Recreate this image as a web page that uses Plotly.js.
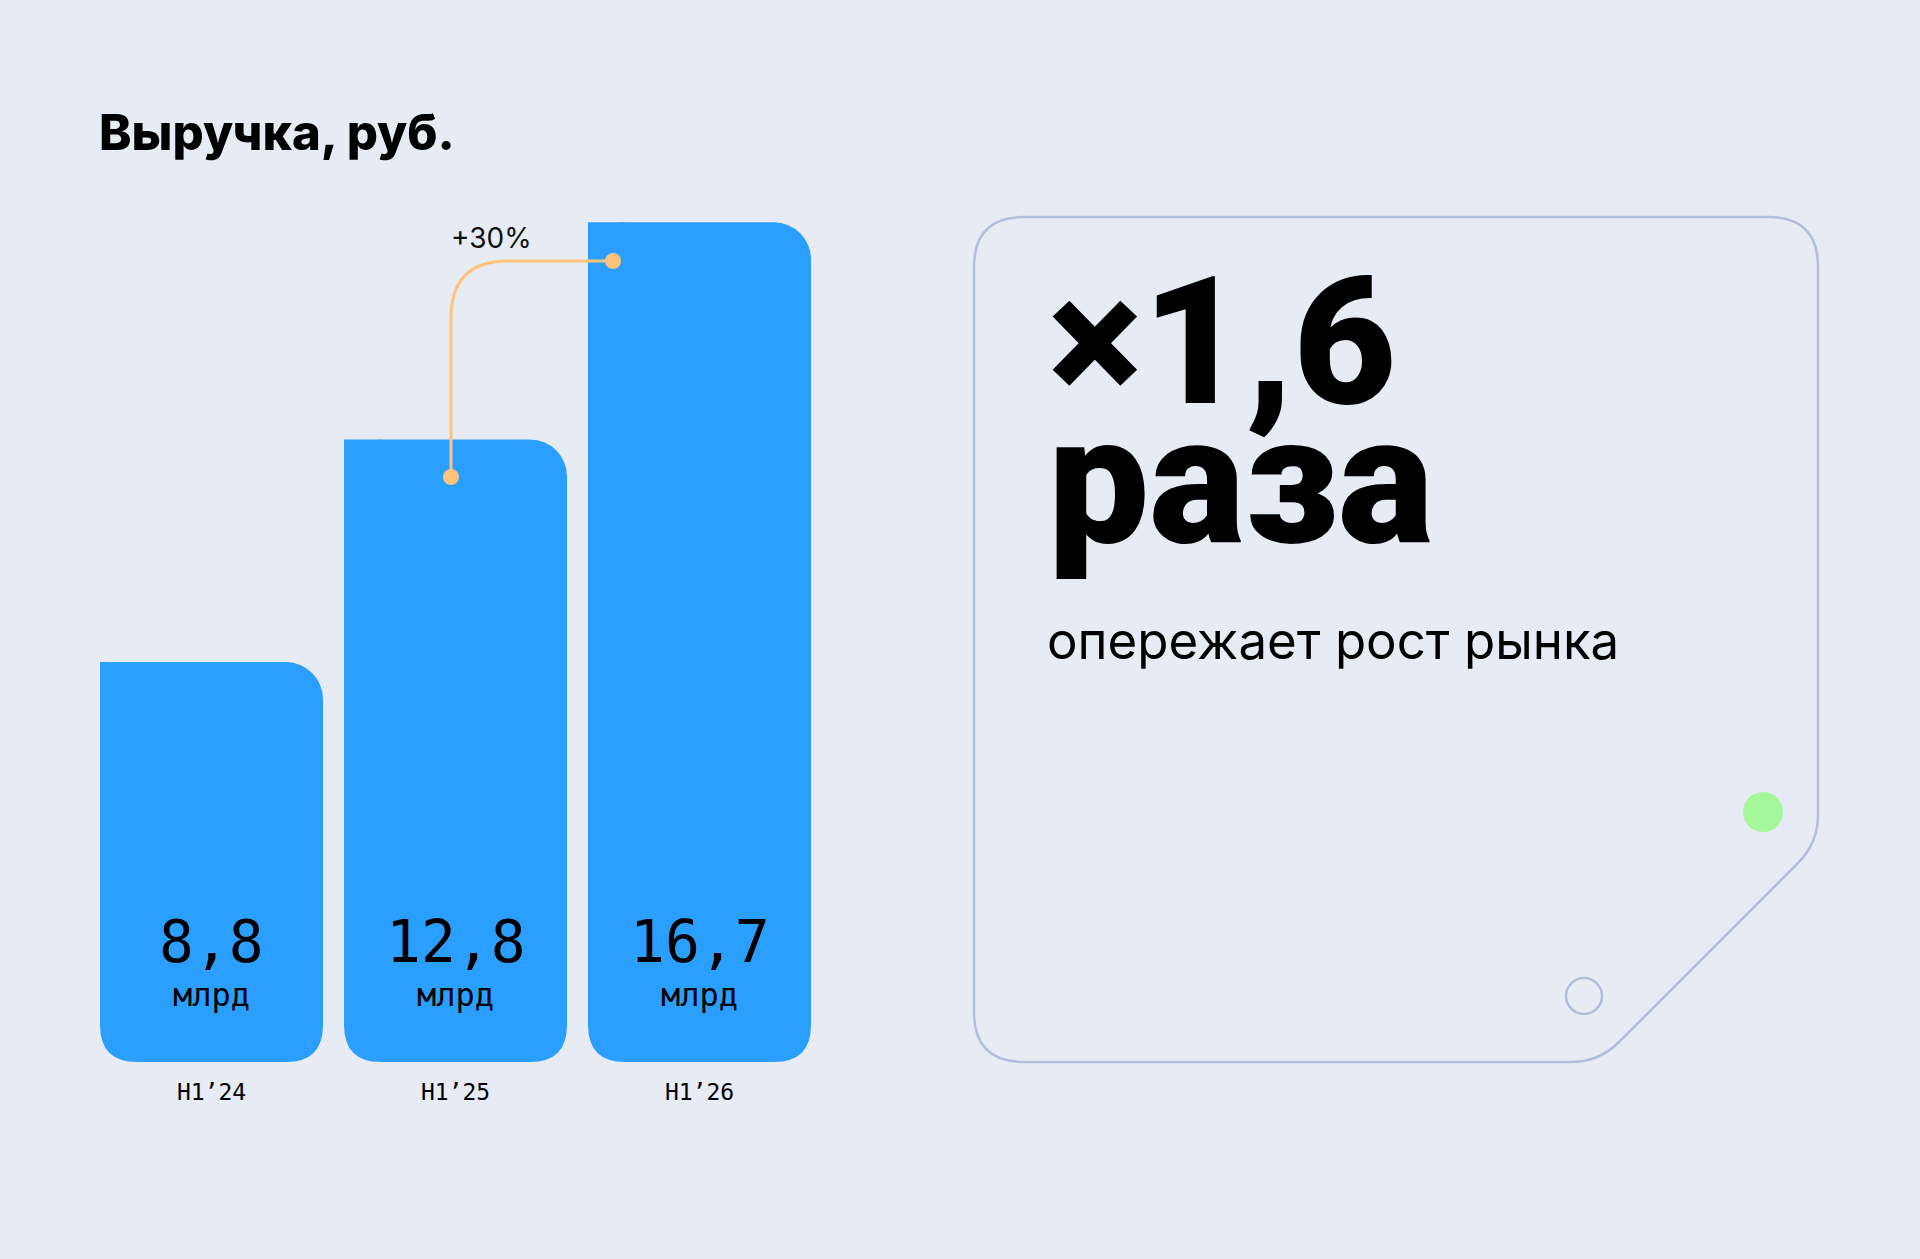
<!DOCTYPE html>
<html>
<head>
<meta charset="utf-8">
<script src="https://cdn.plot.ly/plotly-3.0.1.min.js"></script>
<style>html,body{margin:0;padding:0;background:#E7EBF4;}#chart{width:1920px;height:1259px;}</style>
</head>
<body>
<div id="chart"></div>
<script>
// ---------- data ----------
const categories = ['H1’24', 'H1’25', 'H1’26'];
const revenue = [8.8, 12.8, 16.7];
const unitLabel = 'млрд';
const chartTitle = 'Выручка, руб.';
const multiplierText = '×1,6';
const multiplierWord = 'раза';
const captionText = 'опережает рост рынка';

// ---------- style / layout constants ----------
const W = 1920, H = 1259;
const BG = '#E7EBF4', BAR = '#2B9FFF', ORANGE = '#FFC47C', BORDER = '#B1BFDB', GREEN = '#A4F89B';
const px = x => x / W;
const py = y => 1 - y / H;
const pitch = 244;            // px per category
const barW = 223;             // px
const bw = barW / pitch;      // bar width in category units
const zeroPix = 1152, k = 55.67; // y scale: pixel of value 0, px per unit
const plotBottom = 1062, plotTop = 160;
const rad = 37;               // corner radius, px
const MONO = 'DejaVu Sans Mono';
const SANS = 'Inter';
const HEAVY = 'Roboto';

const growth = Math.round((revenue[2] / revenue[1] - 1) * 100);
const fmt = v => v.toFixed(1).replace('.', ',');

const trace = {
  type: 'bar',
  x: categories,
  y: revenue,
  marker: { color: BAR, cornerradius: rad, line: { width: 0 } },
  hoverinfo: 'x+y',
  showlegend: false
};

const shapes = [];
const annotations = [];

// bars: square top-left corner, rounded bottom corners
categories.forEach((c, i) => {
  const L = i - bw / 2, R = i + bw / 2, rx = rad / pitch, e = 2 / pitch;
  shapes.push({
    type: 'rect', xref: 'x', yref: 'y', layer: 'above',
    x0: L, x1: L + rx, y0: revenue[i] - rad / k, y1: revenue[i],
    fillcolor: BAR, line: { width: 0 }
  });
  const yb = py(plotBottom), yt = py(plotBottom - rad), yd = py(plotBottom + 3);
  shapes.push({
    type: 'path', xref: 'x', yref: 'paper', layer: 'above',
    path: `M ${L - e},${yt} L ${L},${yt} Q ${L},${yb} ${L + rx},${yb} L ${L + rx},${yd} L ${L - e},${yd} Z`,
    fillcolor: BG, line: { width: 0 }
  });
  shapes.push({
    type: 'path', xref: 'x', yref: 'paper', layer: 'above',
    path: `M ${R + e},${yt} L ${R},${yt} Q ${R},${yb} ${R - rx},${yb} L ${R - rx},${yd} L ${R + e},${yd} Z`,
    fillcolor: BG, line: { width: 0 }
  });
  annotations.push({
    x: c, xref: 'x', y: py(942), yref: 'paper', yanchor: 'middle', xanchor: 'center',
    text: fmt(revenue[i]), showarrow: false,
    font: { family: MONO, size: 58, color: '#000' }
  });
  annotations.push({
    x: c, xref: 'x', y: py(995), yref: 'paper', yanchor: 'middle', xanchor: 'center',
    text: unitLabel, showarrow: false,
    font: { family: MONO, size: 32, color: '#000' }
  });
});

// connector between bar 2 and bar 3
const cx1 = 451, cy1 = 477, cx2 = 613, cy2 = 261, cr = 57;
shapes.push({
  type: 'path', xref: 'paper', yref: 'paper', layer: 'above',
  path: `M ${px(cx1)},${py(cy1)} L ${px(cx1)},${py(cy2 + cr)} Q ${px(cx1)},${py(cy2)} ${px(cx1 + cr)},${py(cy2)} L ${px(cx2)},${py(cy2)}`,
  line: { color: ORANGE, width: 3 }
});
[[cx1, cy1], [cx2, cy2]].forEach(([x, y]) => {
  shapes.push({
    type: 'circle', xref: 'paper', yref: 'paper', layer: 'above',
    x0: px(x - 8), x1: px(x + 8), y0: py(y + 8), y1: py(y - 8),
    fillcolor: ORANGE, line: { width: 0 }
  });
});
annotations.push({
  x: px(492), y: py(238), xref: 'paper', yref: 'paper', xanchor: 'center', yanchor: 'middle',
  text: '+' + growth + '%', showarrow: false,
  font: { family: SANS, size: 28, color: '#111' }
});

// right panel
const pL = 974, pT = 217, pR = 1818, pB = 1062, R1 = 50;
const dC = 2661; // diagonal x + y
const cA = [pR, dC - pR], cB = [dC - pB, pB];
const P = (x, y) => `${px(x)},${py(y)}`;
const panelPath = [
  `M ${P(pL + R1, pT)}`,
  `L ${P(pR - R1, pT)}`,
  `Q ${P(pR, pT)} ${P(pR, pT + R1)}`,
  `L ${P(pR, cA[1] - 28)}`,
  `Q ${P(cA[0], cA[1])} ${P(cA[0] - 20, cA[1] + 20)}`,
  `L ${P(cB[0] + 20, cB[1] - 20)}`,
  `Q ${P(cB[0], cB[1])} ${P(cB[0] - 28, cB[1])}`,
  `L ${P(pL + R1, pB)}`,
  `Q ${P(pL, pB)} ${P(pL, pB - R1)}`,
  `L ${P(pL, pT + R1)}`,
  `Q ${P(pL, pT)} ${P(pL + R1, pT)}`,
  'Z'
].join(' ');
shapes.push({
  type: 'path', xref: 'paper', yref: 'paper', layer: 'below',
  path: panelPath, line: { color: BORDER, width: 2.5 }, fillcolor: 'rgba(0,0,0,0)'
});
shapes.push({
  type: 'circle', xref: 'paper', yref: 'paper',
  x0: px(1763 - 20), x1: px(1763 + 20), y0: py(812 + 20), y1: py(812 - 20),
  fillcolor: GREEN, line: { width: 0 }
});
shapes.push({
  type: 'circle', xref: 'paper', yref: 'paper',
  x0: px(1584 - 18), x1: px(1584 + 18), y0: py(996 + 18), y1: py(996 - 18),
  fillcolor: 'rgba(0,0,0,0)', line: { color: BORDER, width: 2.5 }
});

annotations.push({
  x: px(1046), y: py(342), xref: 'paper', yref: 'paper', xanchor: 'left', yanchor: 'middle',
  text: multiplierText, showarrow: false,
  font: { family: HEAVY, size: 178, weight: 900, color: '#000' }
});
annotations.push({
  x: px(1046), y: py(481), xref: 'paper', yref: 'paper', xanchor: 'left', yanchor: 'middle',
  text: multiplierWord, showarrow: false,
  font: { family: HEAVY, size: 180, weight: 900, color: '#000' }
});
annotations.push({
  x: px(1045), y: py(640), xref: 'paper', yref: 'paper', xanchor: 'left', yanchor: 'middle',
  text: captionText, showarrow: false,
  font: { family: SANS, size: 51, color: '#000' }
});

const layout = {
  width: W, height: H,
  margin: { l: 0, r: 0, t: 0, b: 0 },
  paper_bgcolor: BG, plot_bgcolor: 'rgba(0,0,0,0)',
  title: {
    text: chartTitle, x: px(99), xanchor: 'left', xref: 'paper',
    y: py(133), yanchor: 'middle', yref: 'paper',
    font: { family: SANS, size: 49, weight: 800, color: '#000' }
  },
  bargap: 1 - bw,
  xaxis: {
    domain: [px(211.5 - pitch / 2), px(211.5 + pitch * 2.5)],
    range: [-0.5, 2.5], type: 'category',
    showgrid: false, zeroline: false, showline: false, ticks: '',
    tickfont: { family: MONO, size: 23, color: '#000' },
    ticklabelstandoff: 14, fixedrange: true
  },
  yaxis: {
    domain: [py(plotBottom), py(plotTop)],
    range: [(zeroPix - plotBottom) / k, (zeroPix - plotTop) / k],
    visible: false, fixedrange: true
  },
  shapes: shapes,
  annotations: annotations,
  showlegend: false
};

Plotly.newPlot('chart', [trace], layout, { displayModeBar: false, responsive: false });
</script>
</body>
</html>
